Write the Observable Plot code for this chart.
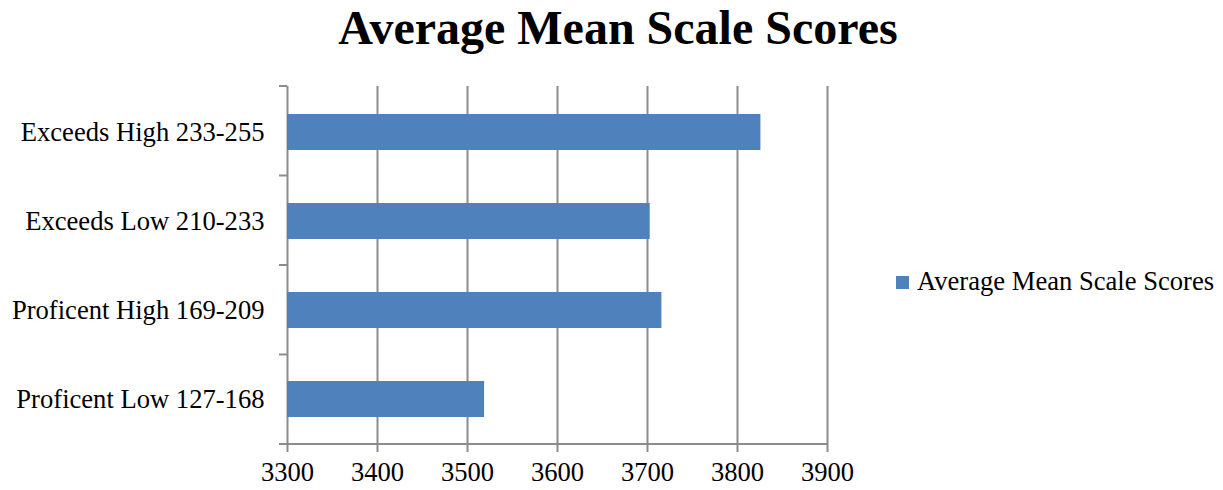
<!DOCTYPE html>
<html>
<head>
<meta charset="utf-8">
<script src="https://cdn.jsdelivr.net/npm/d3@7"></script>
<script src="https://cdn.jsdelivr.net/npm/@observablehq/plot@0.6"></script>
<style>
  html, body { margin: 0; padding: 0; background: white; }
  #wrap { position: relative; width: 1223px; height: 490px; font-family: "Liberation Serif", "Times New Roman", serif; }
  #title { position: absolute; left: 0; top: 0; width: 1236px; text-align: center; font-weight: bold; font-size: 48px; line-height: 56px; color: black; }
  #legend { position: absolute; left: 896px; top: 266px; font-size: 26.6px; line-height: 30px; color: black; white-space: nowrap; }
  #legend .sw { display: inline-block; width: 13px; height: 13px; margin-right: 8px; vertical-align: 1px; }
  #chart { position: absolute; left: 0; top: 0; }
</style>
</head>
<body>
<div id="wrap">
  <div id="chart"></div>
  <div id="title"></div>
  <div id="legend"></div>
</div>
<script>
const titleText = "Average Mean Scale Scores";
const seriesName = "Average Mean Scale Scores";
const categories = ["Exceeds High 233-255", "Exceeds Low 210-233", "Proficent High 169-209", "Proficent Low 127-168"];
const values = [3826, 3703, 3716, 3519];
const xTicks = [3300, 3400, 3500, 3600, 3700, 3800, 3900];
const barColor = "#4F81BD";
const gridColor = "#8c8c8c";

const data = categories.map((c, i) => ({category: c, value: values[i]}));

document.getElementById("title").textContent = titleText;
document.getElementById("legend").innerHTML =
  `<span class="sw" style="background:${barColor}"></span>${seriesName}`;

// Frame: bottom axis line extended left + category boundary ticks on the y axis
const frameMark = (index, scales, vals, dims) => {
  const x = scales.x;
  const x0 = x(xTicks[0]);
  const x1 = x(xTicks[xTicks.length - 1]);
  const top = dims.marginTop;
  const bottom = dims.height - dims.marginBottom;
  const step = (bottom - top) / categories.length;
  const g = d3.create("svg:g")
    .attr("stroke", gridColor)
    .attr("stroke-width", 2)
    .attr("fill", "none");
  g.append("line").attr("x1", x0 - 8).attr("x2", x1 + 1).attr("y1", bottom).attr("y2", bottom);
  for (let i = 0; i < categories.length; i++) {
    const yy = top + i * step;
    g.append("line").attr("x1", x0 - 8).attr("x2", x0).attr("y1", yy).attr("y2", yy);
  }
  return g.node();
};

const plot = Plot.plot({
  width: 1223,
  height: 490,
  marginTop: 86,
  marginBottom: 46,
  marginLeft: 287,
  marginRight: 396,
  style: {fontFamily: '"Liberation Serif", "Times New Roman", serif', fontSize: "26.6px", color: "black", background: "transparent"},
  x: {domain: [xTicks[0], xTicks[xTicks.length - 1]]},
  y: {domain: categories, paddingInner: 0.6, paddingOuter: 0.3},
  marks: [
    Plot.gridX(xTicks.slice(1), {stroke: gridColor, strokeOpacity: 1, strokeWidth: 2}),
    Plot.ruleX([xTicks[0]], {stroke: gridColor, strokeWidth: 2}),
    Plot.barX(data, {x1: xTicks[0], x2: "value", y: "category", fill: barColor}),
    Plot.axisX(xTicks, {tickSize: 8, stroke: gridColor, strokeWidth: 2, tickPadding: 10, fontSize: 26.6, fill: "black", label: null, tickFormat: d => String(d)}),
    Plot.axisY({tickSize: 0, tickPadding: 23, fontSize: 26.6, fill: "black", label: null}),
    frameMark
  ]
});
document.getElementById("chart").appendChild(plot);
</script>
</body>
</html>
